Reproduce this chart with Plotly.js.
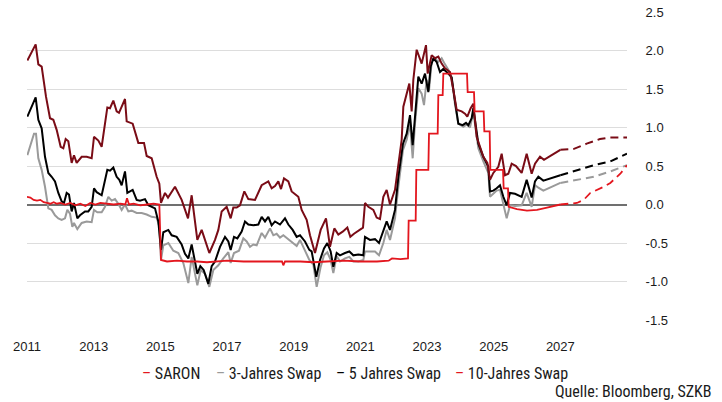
<!DOCTYPE html>
<html>
<head>
<meta charset="utf-8">
<script src="https://cdn.plot.ly/plotly-3.0.1.min.js"></script>
<style>html,body{margin:0;padding:0;background:#fff;}#chart{width:722px;height:402px;}</style>
</head>
<body>
<div id="chart"></div>
<script>
// ---- Data (decimal years, percent) ----
var saronX = [2011.0,2011.1,2011.2,2011.3,2011.4,2011.5,2011.6,2011.7,2011.8,2011.9,2012.0,2012.15,2012.3,2012.45,2012.6,2012.75,2012.9,2013.05,2013.2,2013.4,2013.6,2013.8,2013.95,2014.0,2014.06,2014.2,2014.4,2014.6,2014.8,2014.97,2015.02,2015.2,2015.5,2015.8,2016.1,2016.4,2016.7,2017.0,2017.5,2018.0,2018.5,2018.65,2018.69,2018.74,2019.2,2019.6,2020.0,2020.5,2021.0,2021.5,2021.85,2021.95,2022.2,2022.43,2022.45,2022.66,2022.68,2023.04,2023.06,2023.32,2023.34,2023.47,2023.49,2024.2,2024.22,2024.41,2024.43,2024.7,2024.72,2024.88,2024.9,2025.28,2025.3,2025.43,2025.45,2025.7,2026.0,2026.3,2026.6,2027.0];
var saronY = [0.10,0.09,0.06,0.05,0.06,0.03,0.02,0.01,0.03,0.01,0.02,0.00,0.02,-0.01,0.01,-0.02,0.02,0.00,0.02,0.01,0.00,0.01,0.00,0.08,0.00,0.01,-0.01,0.00,0.01,0.00,-0.72,-0.74,-0.73,-0.74,-0.74,-0.75,-0.74,-0.73,-0.74,-0.74,-0.74,-0.74,-0.79,-0.74,-0.74,-0.75,-0.74,-0.73,-0.74,-0.74,-0.73,-0.70,-0.71,-0.70,-0.21,-0.21,0.45,0.45,0.92,0.92,1.42,1.42,1.70,1.70,1.46,1.46,1.21,1.21,0.95,0.95,0.45,0.45,0.21,0.21,-0.03,-0.06,-0.08,-0.07,-0.04,0.00];
var saronFcX = [2027.0,2027.5,2027.7,2027.9,2028.3,2028.5,2028.8,2029.0];
var saronFcY = [0.00,0.02,0.06,0.15,0.23,0.28,0.40,0.51];

var threeX = [2011.01,2011.14,2011.21,2011.27,2011.34,2011.44,2011.54,2011.64,2011.74,2011.84,2011.94,2012.04,2012.14,2012.21,2012.29,2012.36,2012.41,2012.51,2012.64,2012.79,2012.94,2013.01,2013.11,2013.24,2013.34,2013.44,2013.54,2013.64,2013.74,2013.84,2013.94,2014.04,2014.14,2014.29,2014.44,2014.59,2014.74,2014.89,2014.97,2015.02,2015.09,2015.24,2015.39,2015.54,2015.69,2015.84,2015.94,2016.11,2016.21,2016.34,2016.47,2016.59,2016.74,2016.89,2017.04,2017.11,2017.21,2017.36,2017.49,2017.59,2017.69,2017.79,2017.89,2018.04,2018.14,2018.29,2018.39,2018.49,2018.59,2018.69,2018.84,2018.99,2019.09,2019.19,2019.34,2019.47,2019.59,2019.69,2019.81,2019.91,2020.01,2020.11,2020.19,2020.29,2020.39,2020.54,2020.67,2020.79,2020.94,2021.09,2021.14,2021.29,2021.44,2021.56,2021.69,2021.79,2021.89,2022.04,2022.14,2022.28,2022.39,2022.49,2022.57,2022.64,2022.74,2022.84,2022.91,2022.99,2023.06,2023.14,2023.24,2023.34,2023.44,2023.54,2023.64,2023.74,2023.84,2023.94,2024.09,2024.19,2024.29,2024.39,2024.54,2024.69,2024.84,2024.89,2024.99,2025.09,2025.19,2025.29,2025.39,2025.49,2025.64,2025.84,2025.99,2026.14,2026.24,2026.34,2026.49,2027.0];
var threeY = [0.64,0.84,0.92,0.92,0.60,0.45,0.23,-0.05,-0.07,-0.14,-0.18,-0.20,-0.18,-0.07,-0.12,-0.29,-0.24,-0.32,-0.24,-0.22,-0.23,-0.07,-0.10,-0.10,-0.03,0.10,0.05,0.07,0.01,-0.07,0.00,-0.09,-0.08,-0.11,-0.11,-0.13,-0.16,-0.17,-0.29,-0.72,-0.53,-0.50,-0.60,-0.63,-0.76,-1.02,-0.68,-1.05,-0.85,-0.90,-1.07,-0.85,-0.79,-0.70,-0.62,-0.76,-0.63,-0.60,-0.44,-0.48,-0.55,-0.52,-0.53,-0.37,-0.43,-0.31,-0.40,-0.38,-0.43,-0.40,-0.45,-0.50,-0.54,-0.46,-0.59,-0.72,-0.78,-1.07,-0.81,-0.66,-0.62,-0.72,-0.89,-0.67,-0.74,-0.70,-0.68,-0.74,-0.74,-0.72,-0.61,-0.61,-0.61,-0.66,-0.50,-0.33,-0.46,-0.18,0.23,0.71,0.84,1.05,0.60,1.05,1.51,1.44,1.29,1.62,1.48,1.85,1.90,1.85,1.90,1.82,1.75,1.65,1.30,1.05,1.01,1.04,1.00,1.20,0.73,0.56,0.41,0.10,0.14,0.18,0.19,0.02,-0.18,-0.01,-0.02,-0.01,0.15,-0.03,0.25,0.22,0.18,0.28];
var threeFcX = [2027.0,2027.5,2028.0,2028.5,2029.0];
var threeFcY = [0.28,0.32,0.36,0.43,0.51];

var fiveX = [2011.01,2011.26,2011.34,2011.44,2011.54,2011.64,2011.74,2011.84,2011.94,2012.04,2012.11,2012.19,2012.26,2012.34,2012.41,2012.51,2012.59,2012.74,2012.84,2012.94,2013.01,2013.09,2013.24,2013.31,2013.41,2013.49,2013.59,2013.69,2013.77,2013.84,2013.94,2014.01,2014.17,2014.29,2014.39,2014.54,2014.64,2014.84,2014.94,2015.02,2015.09,2015.24,2015.34,2015.49,2015.64,2015.74,2015.84,2015.94,2016.11,2016.2,2016.3,2016.44,2016.54,2016.64,2016.79,2016.94,2017.04,2017.11,2017.21,2017.31,2017.44,2017.54,2017.64,2017.79,2017.94,2018.04,2018.14,2018.24,2018.34,2018.44,2018.59,2018.74,2018.84,2018.97,2019.09,2019.19,2019.34,2019.47,2019.54,2019.68,2019.79,2019.91,2020.01,2020.11,2020.19,2020.29,2020.39,2020.54,2020.67,2020.79,2020.94,2021.09,2021.14,2021.29,2021.44,2021.56,2021.69,2021.79,2021.89,2022.04,2022.14,2022.28,2022.39,2022.49,2022.57,2022.64,2022.74,2022.84,2022.94,2023.04,2023.11,2023.19,2023.29,2023.39,2023.49,2023.64,2023.74,2023.84,2023.94,2024.07,2024.17,2024.24,2024.34,2024.39,2024.54,2024.69,2024.84,2024.89,2024.99,2025.09,2025.19,2025.29,2025.39,2025.49,2025.64,2025.84,2025.99,2026.14,2026.24,2026.34,2026.49,2027.0];
var fiveY = [1.14,1.39,1.10,0.99,0.62,0.41,0.36,0.30,0.15,0.04,0.02,0.15,0.13,-0.09,0.02,-0.18,-0.14,-0.09,-0.09,-0.03,0.21,0.16,0.12,0.25,0.45,0.44,0.48,0.36,0.32,0.25,0.43,0.15,0.19,0.06,0.05,0.07,-0.01,-0.05,-0.22,-0.59,-0.36,-0.33,-0.40,-0.42,-0.52,-0.64,-0.70,-0.52,-0.90,-0.80,-0.85,-1.03,-0.80,-0.74,-0.55,-0.42,-0.48,-0.59,-0.42,-0.44,-0.35,-0.22,-0.26,-0.27,-0.26,-0.16,-0.22,-0.16,-0.27,-0.22,-0.26,-0.18,-0.26,-0.33,-0.42,-0.40,-0.48,-0.59,-0.61,-0.94,-0.72,-0.57,-0.50,-0.61,-0.81,-0.63,-0.66,-0.63,-0.61,-0.66,-0.65,-0.66,-0.42,-0.46,-0.45,-0.50,-0.33,-0.22,-0.33,-0.07,0.36,0.79,0.92,1.16,0.77,1.18,1.66,1.57,1.70,1.46,1.79,1.90,1.85,1.72,1.76,1.70,1.65,1.34,1.05,1.03,1.06,1.03,1.12,1.25,0.79,0.62,0.49,0.17,0.18,0.21,0.25,0.10,-0.01,0.15,0.14,0.10,0.32,0.09,0.30,0.36,0.31,0.38];
var fiveFcX = [2027.0,2027.5,2028.0,2028.5,2029.0];
var fiveFcY = [0.38,0.45,0.51,0.56,0.66];

var tenX = [2011.01,2011.26,2011.34,2011.44,2011.57,2011.69,2011.79,2011.89,2012.01,2012.09,2012.16,2012.24,2012.34,2012.41,2012.49,2012.64,2012.79,2012.94,2013.01,2013.14,2013.24,2013.41,2013.49,2013.59,2013.69,2013.76,2013.94,2013.99,2014.17,2014.34,2014.51,2014.59,2014.74,2014.89,2014.97,2015.02,2015.14,2015.23,2015.44,2015.64,2015.83,2015.94,2016.11,2016.24,2016.47,2016.64,2016.74,2016.84,2016.99,2017.11,2017.19,2017.29,2017.39,2017.52,2017.64,2017.84,2018.04,2018.24,2018.34,2018.44,2018.54,2018.62,2018.71,2018.84,2018.94,2019.14,2019.24,2019.39,2019.49,2019.64,2019.81,2019.97,2020.09,2020.22,2020.34,2020.48,2020.61,2020.70,2020.81,2020.99,2021.08,2021.14,2021.24,2021.39,2021.49,2021.59,2021.69,2021.79,2021.89,2022.04,2022.14,2022.24,2022.29,2022.39,2022.47,2022.54,2022.59,2022.69,2022.74,2022.84,2022.97,2023.02,2023.14,2023.24,2023.34,2023.44,2023.54,2023.69,2023.79,2023.89,2024.04,2024.14,2024.21,2024.31,2024.39,2024.49,2024.69,2024.81,2024.89,2024.99,2025.14,2025.24,2025.34,2025.44,2025.54,2025.67,2025.84,2025.99,2026.14,2026.24,2026.39,2026.51,2026.74,2027.0];
var tenY = [1.87,2.08,1.82,1.79,1.40,1.12,1.10,0.97,0.75,0.73,0.85,0.82,0.54,0.64,0.54,0.62,0.62,0.60,0.88,0.83,0.75,1.26,1.25,1.35,1.21,1.19,1.37,1.08,1.05,0.80,0.80,0.63,0.60,0.36,0.27,0.02,0.15,0.09,0.23,0.06,-0.18,0.12,-0.46,-0.33,-0.63,-0.46,-0.33,-0.09,-0.03,-0.18,-0.04,-0.04,-0.01,0.17,0.07,0.06,0.25,0.30,0.21,0.24,0.30,0.20,0.34,0.30,0.17,0.10,-0.07,-0.20,-0.40,-0.63,-0.33,-0.18,-0.55,-0.31,-0.39,-0.35,-0.30,-0.42,-0.38,-0.33,-0.30,0.02,-0.03,-0.07,-0.17,-0.19,0.10,0.19,0.00,0.19,0.51,0.84,1.27,1.42,1.57,1.21,1.62,2.01,1.95,1.83,2.07,1.70,1.94,1.90,1.92,1.83,1.77,1.72,1.49,1.23,1.21,1.18,1.14,1.25,1.31,0.88,0.62,0.54,0.32,0.41,0.49,0.66,0.38,0.40,0.53,0.50,0.41,0.66,0.40,0.53,0.62,0.58,0.64,0.71];
var tenFcX = [2027.0,2027.39,2027.79,2028.19,2028.49,2029.0];
var tenFcY = [0.71,0.72,0.79,0.85,0.87,0.87];

var xTickVals = [2011,2013,2015,2017,2019,2021,2023,2025,2027];
var xTickText = ['2011','2013','2015','2017','2019','2021','2023','2025','2027'];
var yTickVals = [-1.5,-1.0,-0.5,0.0,0.5,1.0,1.5,2.0,2.5];
var yTickText = ['-1.5','-1.0','-0.5','0.0','0.5','1.0','1.5','2.0','2.5'];

var seriesNames = ['SARON','3-Jahres Swap','5 Jahres Swap','10-Jahres Swap'];
var legendColors = ['#e3161e','#9a9a9a','#000000','#e3161e'];
var sourceText = 'Quelle: Bloomberg, SZKB';

// ---- Styles ----
var cRed = '#e3161e', cGray = '#9a9a9a', cBlack = '#000000', cDark = '#7a0c16';
var dash = '8px,5px';
function tr(x, y, color, width, d){
  return {x:x, y:y, type:'scatter', mode:'lines', showlegend:false, hoverinfo:'skip',
          line:{color:color, width:width, dash:d||'solid'}};
}
var data = [
  tr(threeX, threeY, cGray, 2),
  tr(threeFcX, threeFcY, cGray, 2, dash),
  tr(fiveX, fiveY, cBlack, 2),
  tr(fiveFcX, fiveFcY, cBlack, 2, dash),
  tr(tenX, tenY, cDark, 2),
  tr(tenFcX, tenFcY, cDark, 2, dash),
  tr(saronX, saronY, cRed, 1.8),
  tr(saronFcX, saronFcY, cRed, 1.8, dash)
];

var narrow = '"Liberation Sans Narrow", "Arial Narrow", "Roboto Condensed", "DejaVu Sans Condensed", sans-serif';
var legendPos = [0.188, 0.312, 0.512, 0.71];
var annotations = seriesNames.map(function(n,i){
  return {xref:'paper', yref:'paper', x:legendPos[i], y:-0.175, xanchor:'left', yanchor:'middle',
          showarrow:false, text:'<span style="color:'+legendColors[i]+'">–</span> '+n,
          font:{family:narrow, size:16, color:'#1a1a1a'}};
});
annotations.push({xref:'paper', yref:'paper', x:1.145, y:-0.232, xanchor:'right', yanchor:'middle',
  showarrow:false, text:sourceText, font:{family:narrow, size:16, color:'#1a1a1a'}});

var layout = {
  width:722, height:402,
  margin:{l:27, r:95, t:12, b:82},
  paper_bgcolor:'#ffffff', plot_bgcolor:'#ffffff',
  showlegend:false,
  font:{family:'"Liberation Sans", Arial, sans-serif', size:13, color:'#1a1a1a'},
  xaxis:{type:'linear', range:[2011,2029], tickvals:xTickVals, ticktext:xTickText,
         showgrid:false, zeroline:false, showline:false, ticks:'outside', ticklen:14,
         tickcolor:'rgba(0,0,0,0)', tickfont:{size:13}, fixedrange:true},
  yaxis:{side:'right', range:[-1.5,2.5], tickvals:yTickVals, ticktext:yTickText,
         showgrid:true, gridcolor:'#dddddd', gridwidth:1,
         zeroline:true, zerolinecolor:'#707070', zerolinewidth:2,
         showline:false, ticks:'outside', ticklen:15, tickcolor:'rgba(0,0,0,0)',
         tickfont:{size:13}, fixedrange:true},
  annotations:annotations
};
Plotly.newPlot('chart', data, layout, {displayModeBar:false, staticPlot:true});
</script>
</body>
</html>
